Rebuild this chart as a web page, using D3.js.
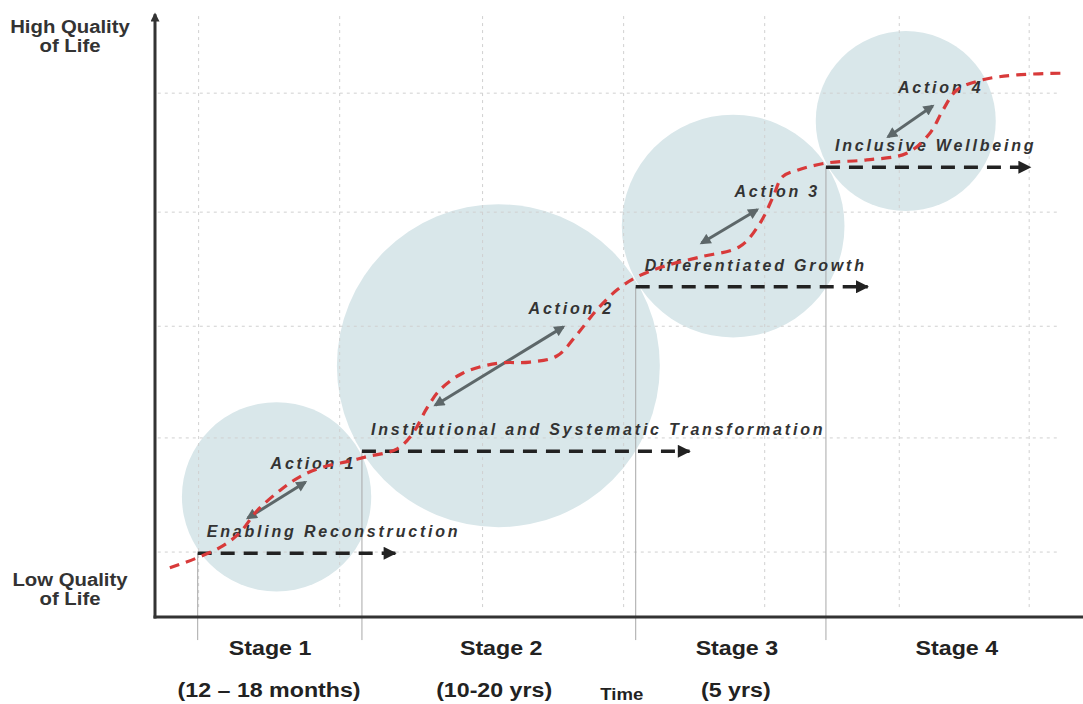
<!DOCTYPE html>
<html lang="en">
<head>
<meta charset="UTF-8">
<title>Quality of Life Stages</title>
<script src="https://d3js.org/d3.v7.min.js"></script>
<style>
  body { margin: 0; background: #fff; }
  svg { display: block; }
  .grid line { stroke: #d0d0d0; stroke-width: 1; stroke-dasharray: 3,4; }
  .divider { stroke: #a8a8a8; stroke-width: 1; }
  .axis { stroke: #333; stroke-width: 3; fill: none; }
  .phase { stroke: #222; stroke-width: 3.5; stroke-dasharray: 14,9; fill: none; }
  .action { stroke: #5d6769; stroke-width: 3; fill: none; }
  .path { stroke: #d83a3a; stroke-width: 3.2; stroke-dasharray: 10,7; fill: none; }
  .lbl { font-family: "Liberation Sans", Arial, sans-serif; font-weight: bold; font-style: italic;
         font-size: 16px; letter-spacing: 2.8px; fill: #333; }
  .stage { font-family: "Liberation Sans", Arial, sans-serif; font-weight: bold; font-size: 20px; fill: #222; }
  .ylab { font-family: "Liberation Sans", Arial, sans-serif; font-weight: bold; font-size: 18px; fill: #333; }
</style>
</head>
<body>
<script>
// time runs 0-100 across the axis, quality of life 0-100 up the axis

// the red development path
const pathTime    = [1.6, 4.8, 7.3, 9.2, 11.0, 13.5, 15.6, 18.1, 21.0, 22.8, 26.1, 27.8, 29.3, 30.7, 33.2, 36.9, 40.4, 43.3, 45.5, 47.6, 49.8, 51.9, 54.7, 58.7, 63.0, 65.2, 66.6, 67.6, 69.2, 72.4, 76.7, 81.0, 83.5, 84.9, 86.4, 89.2, 92.9, 98.3];
const pathQuality = [8.1, 9.9, 11.7, 14.0, 17.5, 20.9, 23.1, 24.7, 25.7, 26.4, 27.7, 30.3, 34.4, 37.4, 40.2, 41.8, 42.0, 43.0, 46.6, 50.6, 53.9, 56.0, 57.7, 59.3, 61.0, 64.9, 69.2, 72.5, 73.6, 74.8, 75.3, 76.4, 79.7, 83.5, 86.8, 88.5, 89.3, 89.6];

// stages
const stageNames     = ["Stage 1", "Stage 2", "Stage 3", "Stage 4"];
const stageDurations = ["(12 – 18 months)", "(10-20 yrs)", "(5 yrs)", ""];
const stageTitles    = ["Enabling Reconstruction", "Institutional and Systematic Transformation", "Differentiated Growth", "Inclusive Wellbeing"];
const stageStart     = [4.6, 22.3, 51.8, 72.3];
const stageEnd       = [25.9, 57.6, 76.8, 94.3];
const stageLevel     = [10.5, 27.3, 54.4, 74.1];
const stageCenter    = [12.4, 37.3, 62.7, 86.4];

// shaded bubbles
const bubbleTime    = [13.1, 37.0, 62.3, 80.9];
const bubbleQuality = [19.8, 41.4, 64.4, 81.7];
const bubbleRadius  = [10.2, 17.4, 12.0, 9.7];

// action arrows
const actionNames   = ["Action 1", "Action 2", "Action 3", "Action 4"];
const actionFromT   = [10.0, 30.2, 58.9, 79.0];
const actionFromQ   = [16.3, 34.9, 61.6, 79.1];
const actionToT     = [16.2, 44.0, 64.9, 83.8];
const actionToQ     = [22.2, 47.8, 67.1, 84.2];

// dotted grid
const gridTime    = [4.7, 19.9, 35.3, 50.5, 65.7, 80.2, 94.2];
const gridQuality = [10.7, 29.5, 47.9, 66.7, 86.3];

const W = 1083, H = 704;
const x = d3.scaleLinear().domain([0, 100]).range([155, 1083]);
const y = d3.scaleLinear().domain([0, 100]).range([617, 10]);

// the original lettering is stretched sideways a little
const stretch = 1.16;

const svg = d3.select("body").append("svg")
  .attr("width", W)
  .attr("height", H);

const defs = svg.append("defs");
defs.append("marker")
  .attr("id", "headBlack")
  .attr("viewBox", "0 0 10 10")
  .attr("refX", 9).attr("refY", 5)
  .attr("markerUnits", "userSpaceOnUse")
  .attr("markerWidth", 14).attr("markerHeight", 13)
  .attr("orient", "auto")
  .append("path").attr("d", "M0,0 L10,5 L0,10 Z").attr("fill", "#222");
defs.append("marker")
  .attr("id", "headGrey")
  .attr("viewBox", "0 0 10 10")
  .attr("refX", 8).attr("refY", 5)
  .attr("markerUnits", "userSpaceOnUse")
  .attr("markerWidth", 12).attr("markerHeight", 11)
  .attr("orient", "auto-start-reverse")
  .append("path").attr("d", "M0,0 L10,5 L0,10 Z").attr("fill", "#5d6769");
defs.append("marker")
  .attr("id", "headAxis")
  .attr("viewBox", "0 0 10 10")
  .attr("refX", 8).attr("refY", 5)
  .attr("markerUnits", "userSpaceOnUse")
  .attr("markerWidth", 11).attr("markerHeight", 9)
  .attr("orient", "auto")
  .append("path").attr("d", "M0,0 L10,5 L0,10 Z").attr("fill", "#333");

// bubbles
svg.append("g").selectAll("circle")
  .data(bubbleTime)
  .enter().append("circle")
  .attr("cx", d => x(d))
  .attr("cy", (d, i) => y(bubbleQuality[i]))
  .attr("r", (d, i) => x(bubbleRadius[i]) - x(0))
  .attr("fill", "#d9e7ea");

// grid on top of the bubbles
const grid = svg.append("g").attr("class", "grid");
grid.selectAll(".gv")
  .data(gridTime)
  .enter().append("line")
  .attr("x1", d => x(d)).attr("x2", d => x(d))
  .attr("y1", y(99)).attr("y2", y(1.2));
grid.selectAll(".gh")
  .data(gridQuality)
  .enter().append("line")
  .attr("x1", x(0.3)).attr("x2", x(97.2))
  .attr("y1", d => y(d)).attr("y2", d => y(d));

// stage dividers
svg.append("g").selectAll("line")
  .data(stageStart)
  .enter().append("line")
  .attr("class", "divider")
  .attr("x1", d => x(d)).attr("x2", d => x(d))
  .attr("y1", (d, i) => y(stageLevel[i]))
  .attr("y2", y(-3.8));

// axes
svg.append("line").attr("class", "axis")
  .attr("x1", x(0)).attr("x2", x(0))
  .attr("y1", y(0) + 1.5).attr("y2", y(99.3))
  .attr("marker-end", "url(#headAxis)");
svg.append("line").attr("class", "axis")
  .attr("x1", x(0) - 1.5).attr("x2", x(100))
  .attr("y1", y(0)).attr("y2", y(0));

// stage baselines
svg.append("g").selectAll("line")
  .data(stageStart)
  .enter().append("line")
  .attr("class", "phase")
  .attr("x1", d => x(d))
  .attr("x2", (d, i) => x(stageEnd[i]))
  .attr("y1", (d, i) => y(stageLevel[i]))
  .attr("y2", (d, i) => y(stageLevel[i]))
  .attr("marker-end", "url(#headBlack)");

// stage titles
svg.append("g").selectAll("text")
  .data(stageTitles)
  .enter().append("text")
  .attr("class", "lbl")
  .attr("x", (d, i) => x(stageStart[i]) + 9)
  .attr("y", (d, i) => y(stageLevel[i]) - 16)
  .text(d => d);

// action arrows
svg.append("g").selectAll("line")
  .data(actionFromT)
  .enter().append("line")
  .attr("class", "action")
  .attr("x1", d => x(d))
  .attr("y1", (d, i) => y(actionFromQ[i]))
  .attr("x2", (d, i) => x(actionToT[i]))
  .attr("y2", (d, i) => y(actionToQ[i]))
  .attr("marker-start", "url(#headGrey)")
  .attr("marker-end", "url(#headGrey)");

svg.append("g").selectAll("text")
  .data(actionNames)
  .enter().append("text")
  .attr("class", "lbl")
  .attr("text-anchor", "middle")
  .attr("x", (d, i) => x(actionToT[i]) + (i === 2 ? 20 : 8))
  .attr("y", (d, i) => y(actionToQ[i]) - 13)
  .text(d => d);

// development path
const line = d3.line()
  .x(d => x(d[0]))
  .y(d => y(d[1]))
  .curve(d3.curveCatmullRom.alpha(0.5));
svg.append("path")
  .attr("class", "path")
  .attr("d", line(pathTime.map((t, i) => [t, pathQuality[i]])));

// stage labels under the axis
svg.append("g").selectAll("text")
  .data(stageNames)
  .enter().append("text")
  .attr("class", "stage")
  .attr("text-anchor", "middle")
  .attr("transform", (d, i) => `translate(${x(stageCenter[i])},655) scale(${stretch},1)`)
  .text(d => d);
svg.append("g").selectAll("text")
  .data(stageDurations)
  .enter().append("text")
  .attr("class", "stage")
  .attr("text-anchor", "middle")
  .attr("transform", (d, i) => `translate(${x(stageCenter[i]) - (i === 1 ? 7 : 1)},697) scale(${stretch},1)`)
  .text(d => d);
svg.append("text")
  .attr("class", "stage")
  .attr("text-anchor", "middle")
  .style("font-size", "16px")
  .attr("transform", `translate(${x(50.3)},700) scale(${stretch},1)`)
  .text("Time");

// quality labels
const ylab = svg.append("g").attr("class", "ylab").attr("text-anchor", "middle");
[["High Quality", 33], ["of Life", 52], ["Low Quality", 586], ["of Life", 605]].forEach(([t, ty]) => {
  ylab.append("text")
    .attr("transform", `translate(70,${ty}) scale(1.13,1)`)
    .text(t);
});
</script>
</body>
</html>
